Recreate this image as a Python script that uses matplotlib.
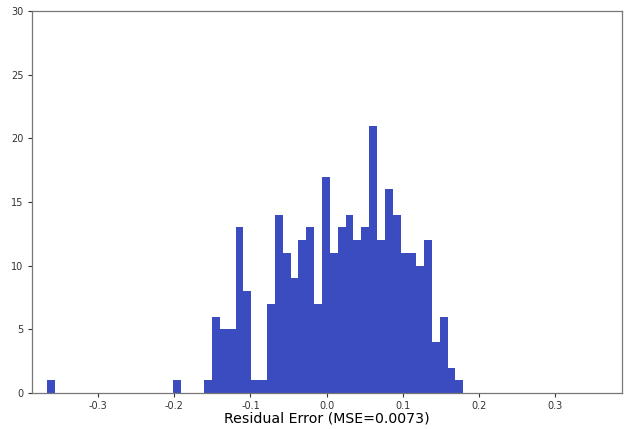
import numpy as np
import matplotlib
matplotlib.use("Agg")
import matplotlib.pyplot as plt

# Histogram bin range and per-bin counts (53 bins)
bin_start = -0.3667
bin_end = 0.1793
counts = [1, 0, 0, 0, 0, 0, 0, 0, 0, 0,
          0, 0, 0, 0, 0, 0, 1, 0, 0, 0,
          1, 6, 5, 5, 13, 8, 1, 1, 7, 14,
          11, 9, 12, 13, 7, 17, 11, 13, 14, 12,
          13, 21, 12, 16, 14, 11, 11, 10, 12, 4,
          6, 2, 1]
xticks = [-0.3, -0.2, -0.1, 0.0, 0.1, 0.2, 0.3]
yticks = [0, 5, 10, 15, 20, 25, 30]
xlabel = "Residual Error (MSE=0.0073)"

edges = np.linspace(bin_start, bin_end, len(counts) + 1)
centers = (edges[:-1] + edges[1:]) / 2

fig = plt.figure(figsize=(6.24, 4.29), dpi=100)
ax = fig.add_axes([31.7 / 624, 36 / 429, (622 - 31.7) / 624, (393 - 11) / 429])
ax.hist(centers, bins=edges, weights=counts, color="#3b4cc0")
ax.set_xlim(-0.387, 0.3875)
ax.set_ylim(0, 30)
ax.set_xticks(xticks)
ax.set_xticklabels([f"{t:.1f}" for t in xticks])
ax.set_yticks(yticks)
ax.tick_params(labelsize=7, colors="#333333", length=3, width=0.8, pad=3)
for t in ax.get_xticklines() + ax.get_yticklines():
    t.set_color("#777777")
for s in ax.spines.values():
    s.set_color("#777777")
    s.set_linewidth(0.9)
ax.set_xlabel(xlabel, fontsize=10.2, labelpad=0)
fig.savefig("out.png", dpi=100)
